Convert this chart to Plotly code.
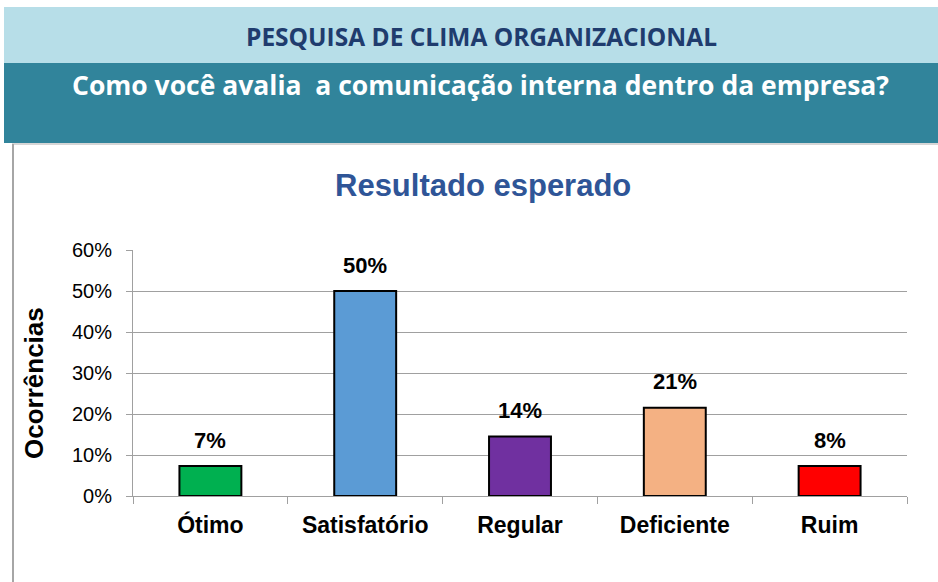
import plotly.graph_objects as go

categories = ["Ótimo", "Satisfatório", "Regular", "Deficiente", "Ruim"]
values = [0.073, 0.500, 0.145, 0.215, 0.073]
value_labels = ["7%", "50%", "14%", "21%", "8%"]
bar_colors = ["#00B050", "#5B9BD5", "#7030A0", "#F4B183", "#FF0000"]
y_ticks = [0, 0.1, 0.2, 0.3, 0.4, 0.5, 0.6]
y_tick_labels = ["0%", "10%", "20%", "30%", "40%", "50%", "60%"]

W, H = 938, 582
PL, PR, PT, PB = 133, 907, 250, 496  # plot area in pixels


def px(x):
    return (x - PL) / (PR - PL)


def py(y):
    return (PB - y) / (PB - PT)


fig = go.Figure()
fig.add_trace(go.Bar(
    x=categories, y=values,
    marker=dict(color=bar_colors, line=dict(color="#000000", width=2)),
    width=0.40,
    hoverinfo="skip",
))

annotations = []
for c, v, t in zip(categories, values, value_labels):
    annotations.append(dict(
        x=c, y=v, xref="x", yref="y", text="<b>%s</b>" % t, showarrow=False,
        yanchor="middle", yshift=26,
        font=dict(family="Arial, Liberation Sans", size=22, color="#000000"),
    ))

# header texts
annotations.append(dict(
    x=px(481), y=py(37), xref="paper", yref="paper",
    text="<b>PESQUISA DE CLIMA ORGANIZACIONAL</b>", showarrow=False,
    xanchor="center", yanchor="middle",
    font=dict(family="Open Sans", size=24.5, color="#1F3C6E"),
))
annotations.append(dict(
    x=px(480), y=py(85), xref="paper", yref="paper",
    text="<b>Como você avalia  a comunicação interna dentro da empresa?</b>", showarrow=False,
    xanchor="center", yanchor="middle",
    font=dict(family="Open Sans", size=26.5, color="#FFFFFF"),
))
annotations.append(dict(
    x=px(483), y=py(185), xref="paper", yref="paper",
    text="<b>Resultado esperado</b>", showarrow=False,
    xanchor="center", yanchor="middle",
    font=dict(family="Arial, Liberation Sans", size=31, color="#2F5597"),
))
annotations.append(dict(
    x=px(34), y=py(383), xref="paper", yref="paper",
    text="<b>Ocorrências</b>", showarrow=False, textangle=-90,
    xanchor="center", yanchor="middle",
    font=dict(family="Arial, Liberation Sans", size=26, color="#000000"),
))

shapes = [
    dict(type="rect", xref="paper", yref="paper", x0=px(4), x1=px(938), y0=py(63), y1=py(7),
         fillcolor="#B7DEE8", line=dict(width=0), layer="below"),
    dict(type="rect", xref="paper", yref="paper", x0=px(4), x1=px(938), y0=py(143), y1=py(63),
         fillcolor="#31849B", line=dict(width=0), layer="below"),
    dict(type="line", xref="paper", yref="paper", x0=px(12), x1=px(938), y0=py(144), y1=py(144),
         line=dict(color="#C8C8C8", width=1.5)),
    dict(type="line", xref="paper", yref="paper", x0=px(13), x1=px(13), y0=py(144), y1=py(582),
         line=dict(color="#A6A6A6", width=2)),
]

fig.update_layout(
    width=W, height=H,
    margin=dict(l=PL, r=W - PR, t=PT, b=H - PB, pad=0),
    paper_bgcolor="#FFFFFF", plot_bgcolor="#FFFFFF",
    showlegend=False,
    annotations=annotations,
    shapes=shapes,
    xaxis=dict(
        showgrid=False, showline=True, linecolor="#A0A0A0", linewidth=1,
        ticks="outside", tickson="boundaries", ticklen=7, tickcolor="#A0A0A0",
        tickfont=dict(family="Arial, Liberation Sans", size=23, color="#000000"),
        ticklabelstandoff=8,
        fixedrange=True,
    ),
    yaxis=dict(
        range=[0, 0.6], tickvals=y_ticks, ticktext=y_tick_labels,
        showgrid=True, gridcolor="#A0A0A0", gridwidth=1,
        showline=True, linecolor="#A0A0A0", linewidth=1,
        ticks="outside", ticklen=6, tickcolor="#A0A0A0",
        tickfont=dict(family="Arial, Liberation Sans", size=20, color="#000000"),
        ticklabelstandoff=10,
        zeroline=False, fixedrange=True,
    ),
)
fig.update_xaxes(tickprefix="<b>", ticksuffix="</b>")

fig.write_html(
    "out.html",
    config={"displayModeBar": False, "staticPlot": True},
    post_script="document.body.style.margin='0';document.body.style.overflow='hidden';",
)
